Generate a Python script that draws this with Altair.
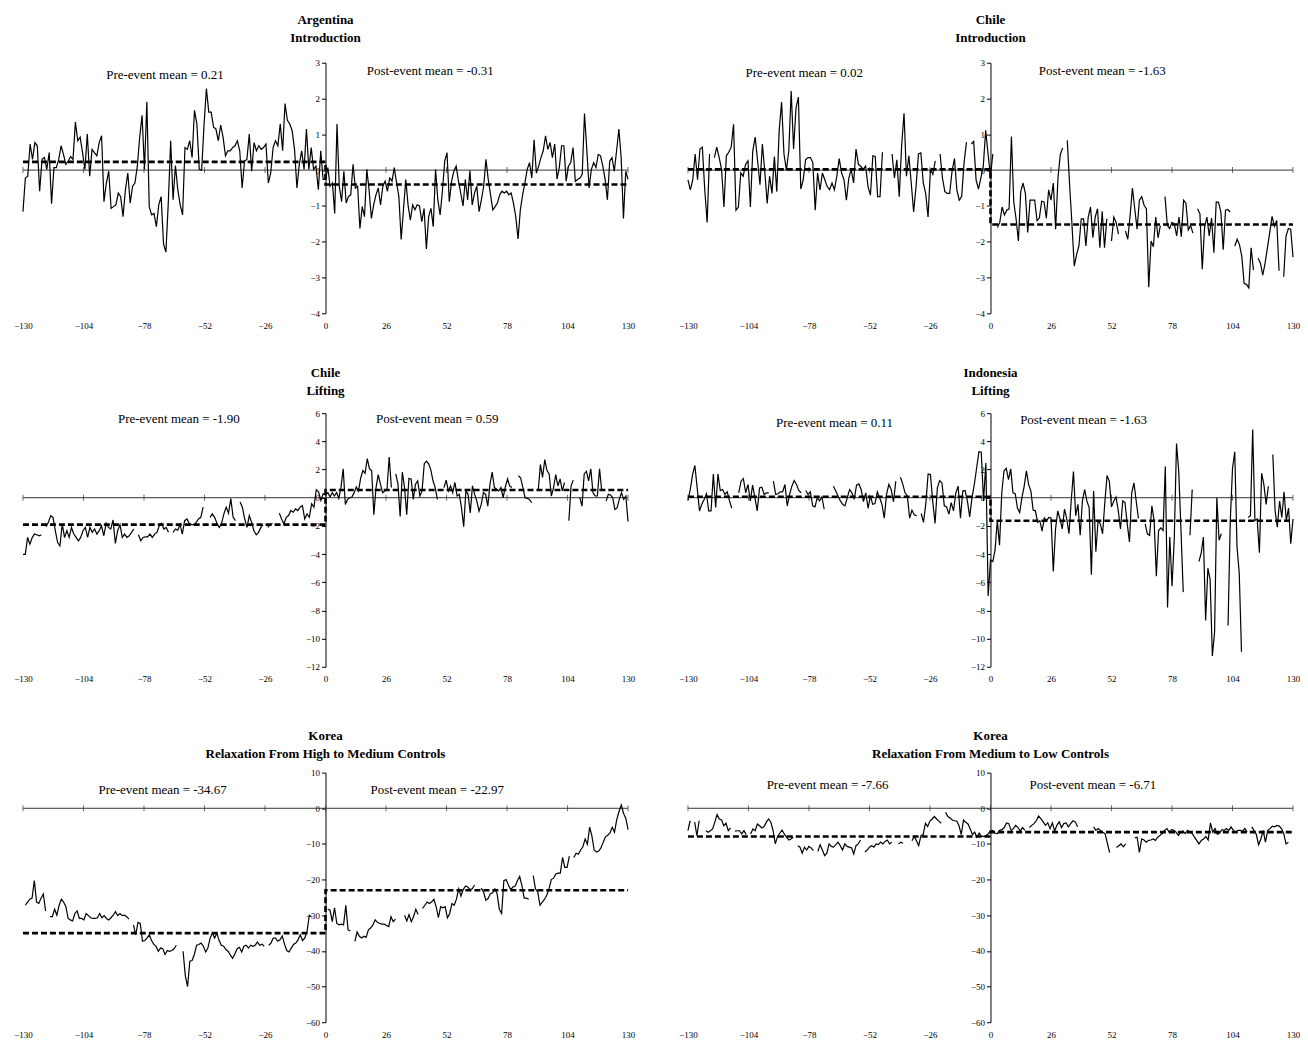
import altair as alt
import numpy as np
import pandas as pd

FONT = "Liberation Serif"
X_TICKS = [-130, -104, -78, -52, -26, 0, 26, 52, 78, 104, 130]

# ---------------- Argentina, Introduction ----------------
arg_pre = [-1.16, -0.22, -0.17, 0.73, 0.30, 0.77, 0.68, -0.59, 0.30, 0.35,
           0.02, 0.49, -0.94, 0.07, 0.07, 0.30, 0.68, 0.44, 0.16, 0.25,
           0.38, 0.30, 1.34, 0.82, 0.92, 0.49, 0.02, 1.01, -0.17, 0.58,
           0.49, 0.40, 0.77, 0.96, -0.88, -0.36, -0.03, -1.07, -1.02, -0.97,
           -0.64, -0.74, -1.30, -0.55, -0.08, -0.92, -0.45, -0.36, 0.11, 0.92,
           1.53, 0.02, 1.91, -1.02, -1.25, -1.21, -1.58, -0.97, -0.74, -2.06,
           -2.29, -0.92, 0.82, -0.83, 0.13, -0.55, -0.97, -1.25, 0.63, 0.58,
           0.82, 0.35, 1.67, 1.29, 0.02, 0.00, 1.25, 2.28, 1.62, 1.62,
           1.20, 1.15, 0.82, 1.26, 0.92, 0.40, 0.54, 0.54, 0.63, 0.68,
           0.82, 0.54, -0.50, 0.25, 0.30, 1.01, -0.03, 0.77, 0.54, 0.68,
           0.58, 0.63, 0.73, -0.36, -0.08, 0.63, 0.82, 0.68, 1.29, 0.54,
           1.86, 1.39, 1.29, 1.10, 0.58, -0.50, 0.16, 0.54, 0.02, 1.15,
           0.02, 0.63, 0.02, 0.11, -0.55, 0.54, -0.26, -0.26]
arg_post = [0.07, -0.45, -0.36, -1.21, 1.29, -0.45, -0.88, -0.03, -0.92, -0.74,
            -0.69, 0.16, -0.50, -0.45, -1.63, -1.02, -1.30, 0.02, -0.55, -1.35,
            -0.97, -0.69, -0.50, -0.97, -0.45, -0.31, -0.59, -0.22, -0.31, 0.07,
            -0.36, -0.74, -1.94, -1.11, -0.26, -0.97, -1.40, -0.97, -1.11, -0.97,
            -1.00, -1.44, -1.07, -2.20, -1.30, -1.07, -1.58, 0.02, -0.83, -1.25,
            -0.59, 0.25, 0.49, -0.88, -0.31, -0.03, 0.11, -0.31, -0.64, -1.00,
            -0.26, -0.83, -0.01, -0.97, -0.64, -0.45, -1.16, -0.83, -0.45, 0.30,
            -0.26, -0.69, -1.11, -1.02, -0.92, -0.69, -0.59, -0.64, -0.59, -0.69,
            -0.64, -0.92, -1.30, -1.92, -1.11, -0.69, -0.36, 0.02, 0.21, -0.22,
            0.85, -0.08, 0.11, 0.35, 0.54, 0.96, 0.58, 0.77, 0.35, 0.73,
            -0.25, 0.07, 0.68, 0.68, -0.31, 0.11, 0.21, 0.63, -0.31, -0.26,
            -0.22, -0.12, 1.58, 0.58, -0.50, 0.02, 0.21, 0.07, 0.44, 0.40,
            0.11, -0.26, -0.83, 0.25, 0.35, -0.03, 0.54, 1.15, 0.35, -1.35,
            -0.03, -0.26]

# ---------------- Chile, Introduction ----------------
chi_pre = [-0.27, -0.55, -0.27, 0.45, -0.27, 0.59, 0.64, -0.55, -1.46, 0.45, None,
           0.35, 0.64, 0.35, 0.02, -1.03, 0.40, 0.50, 0.64, 1.28, -1.12, -1.03, -0.08,
           -0.17, 0.16, 0.26, -1.03, 0.54, 0.92, 0.26, -0.41, 0.73, -0.03, -0.93, -0.17,
           -0.65, 0.38, -0.60, 1.11, 1.90, 0.45, 0.00, 0.54, 2.21, 0.59, 1.73, 2.04,
           -0.53, -0.27, 0.29, 0.35, 0.35, 0.21, -1.12, -0.08, -0.55, -0.08, -0.27,
           -0.46, -0.55, -0.36, -0.55, -0.17, 0.32, -0.08, -0.27, -0.84, -0.22, 0.02,
           -0.36, 0.59, 0.16, 0.10, 0.02, 0.11, -0.46, -0.70, 0.40, 0.38, -0.74, -0.74,
           0.50, None, None, None,
           0.45, -0.22, 0.29, -0.74, 0.69, 1.59, -0.17, 0.40, -0.36, -1.17, -0.46,
           0.45, 0.48, -0.36, -0.65, -1.31, 0.02, -0.12, 0.26, None,
           0.45, -0.22, -0.60, -0.65, -0.65, -0.03, 0.32, -0.55, -0.84, -0.74, 0.21,
           0.78, None,
           0.73, 0.80, -0.27, -0.53, -0.22, 0.11, 1.11, 0.45, -0.17]
chi_post = [0.45, None, -1.60, -1.46, -1.03, -1.25, -1.12, -1.08, 0.94, -0.89, -1.36,
            -1.98, -0.60, -0.36, -0.65, -1.74, -0.84, -0.84, -0.84, -1.41, -1.34, -0.87,
            -0.89, -1.34, -0.55, -0.84, -0.36, -1.65, -0.22, 0.43, 0.62, None,
            0.83, -0.41, -1.50, -2.68, -2.36, -2.12, -1.36, -1.36, -2.12, -1.31, -1.03,
            -1.89, -1.31, -1.08, -2.17, -1.15, -2.17, -1.36, None,
            -1.98, -1.31, -1.46, -1.79, None, None,
            -1.70, -1.93, -1.27, -0.50, -1.08, -1.65, -0.84, -0.74, -0.98, -1.08, -3.27,
            -1.98, -2.14, -1.31, -1.89, -1.55, None,
            -0.74, -1.55, -1.63, -1.46, -1.50, -1.84, -1.31, -1.86, -0.84, -0.93, -1.67,
            -1.55, -1.76, None,
            -1.08, -1.22, -2.77, -1.60, -1.31, -1.84, -1.34, -2.31, -0.89, -0.90, -1.17,
            -2.22, -1.12, -1.10, -1.17, None,
            -2.12, -1.93, -2.08, -2.41, -3.17, -3.19, -3.29, -2.17, -2.79, None,
            -2.46, -2.60, -2.93, -2.60, -2.17, -1.74, -1.29, -1.57, -1.41, -2.81, None,
            -2.98, -1.84, -1.63, -1.65, -2.43]

# ---------------- Chile, Lifting ----------------
chl_pre = [-4.02, -4.02, -2.82, -3.30, -2.82, -2.58, -2.63, -2.70, -2.63, None,
           -2.06, -1.75, -1.27, -1.39, -2.34, -3.18, -3.42, -1.87, -2.82, -2.34, -2.82,
           -2.11, -2.58, -2.82, -3.06, -2.82, -2.34, -2.11, -2.82, -2.11, -2.46, -2.22,
           -2.58, -2.34, -1.99, -2.70, -1.82, -2.11, -2.22, -1.58, -3.25, -2.34, -1.91,
           -2.82, -2.58, -2.82, -2.70, -2.46, -2.22, None,
           -2.63, -3.06, -2.82, -2.78, -2.78, -2.58, -2.82, -2.58, -2.46, -1.99, -1.82,
           -2.22, -2.11, -2.46, None,
           -2.46, -2.22, -2.30, -1.91, -2.58, -1.63, -1.51, -1.82, -1.91, -1.91, -1.75,
           -1.51, -1.39, -0.67, None, None,
           -1.39, -1.15, -1.39, -1.82, -2.11, -1.82, -1.15, -0.67, -1.10, -0.07, -1.39,
           -1.63, None,
           -0.31, -0.67, -1.51, -2.11, -1.27, -1.75, -2.34, -2.63, -2.46, -2.11, -1.91,
           None,
           -2.11, -1.91, -1.82, None, None,
           -1.10, -1.51, -1.87, -1.39, -1.27, -0.91, -1.03, -0.79, -0.91, -0.67, -0.55,
           -1.51, -1.15, -1.39, -0.43, -0.67, 0.57, 0.41, -0.19, 0.29, 0.17]
chl_post = [0.36, 0.05, 0.36, 0.12, 0.36, -0.05, 0.72, 2.05, -0.48, -0.12, 0.00, 0.05,
            0.36, 0.77, 0.48, 1.40, 1.93, 1.73, 2.77, 2.05, 1.93, -1.20, 0.72, 1.64,
            0.96, 0.36, 0.48, 0.60, 2.89, 0.72, None,
            1.69, 0.96, -1.33, 1.81, 0.72, -1.20, 1.37, 1.33, -0.12, 0.96, 1.20, 0.12,
            0.48, 2.41, 2.60, 2.41, 1.98, 1.20, 0.72, -0.12, None, None,
            0.72, 1.25, 0.48, 0.84, 0.36, 1.08, 0.12, 0.24, -0.72, -2.05, 0.48, 0.24,
            -1.08, 0.84, 0.24, -0.24, -0.96, -0.48, 0.36, 0.24, -0.60, 0.96, 1.81, 0.72,
            0.60, 0.48, 0.72, 0.00, 0.77, 1.33, 0.84, 0.72, None, None,
            1.57, 1.40, 0.72, 0.00, -0.05, -0.12, -0.36, None, None,
            0.48, 2.36, 1.45, 2.70, 1.93, 1.69, 0.12, 0.72, 1.64, 0.84, 1.33, 0.48, 1.08,
            None,
            -1.64, 0.84, 1.25, None, None,
            0.00, -0.60, 1.69, 1.88, 1.20, 2.05, 0.36, 0.12, 0.12, 2.05, 0.48, None,
            -0.24, 0.24, 0.19, 0.00, -0.84, -0.72, -0.12, 0.36, -0.12, 0.12, -1.69]

# ---------------- Indonesia, Lifting ----------------
ind_pre = [-0.19, 0.58, 1.64, 2.29, 0.70, -0.94, -0.47, -0.12, 0.28, -0.94, -0.94, 1.68,
           -0.70, 1.68, 0.51, 0.58, 0.23, 0.42, -0.23, -0.75, None, None,
           0.35, 1.17, 1.36, 0.35, 0.94, -0.23, 0.89, 0.00, -0.94, 0.70, 0.75, 0.23, 0.35,
           0.35, None,
           1.17, 0.23, 0.28, 0.42, 0.42, 0.94, -0.58, 0.23, 0.82, 1.22, 0.94, 0.51, 0.35,
           None,
           0.51, 0.23, 0.42, -0.58, -0.65, 0.00, -0.23, 0.05, -0.82, None, None, None,
           0.82, 0.47, 0.12, -0.23, -0.47, -0.58, 0.00, 0.58, 0.35, -0.12, 0.89, 0.98,
           0.58, -0.28, 0.35, -0.75, 0.12, -0.47, -0.42, 0.42, 0.00, -0.47, -1.45, 0.23,
           0.94, 0.58, -0.28, 1.17, None,
           1.45, 0.98, 0.35, 0.12, -1.45, -0.89, -1.22, -1.29, None,
           -1.12, -1.75, -0.42, 1.68, 1.64, -0.28, -1.82, 0.70, 1.22, 1.05, -0.58, -0.65,
           -1.17, -0.35, -0.94, 0.35, 0.82, -1.45, 0.47, 0.51, -0.23, -1.36, 0.00, 0.94,
           2.11, 3.27, 3.23, -0.23, 2.46, -6.98, -4.42]
ind_post = [-4.53, -3.72, -1.63, -3.37, 0.35, 1.91, 2.09, 1.28, 2.05, 0.35, 0.28, -0.74,
            -1.05, 0.00, 0.81, 1.91, 0.93, 0.47, -0.88, -0.93, -1.74, -1.63, -2.37, -1.44,
            -1.63, -1.40, -1.44, -5.23, -2.21, -0.93, -1.51, -2.21, -0.81, -1.51, -2.56,
            -0.23, 1.86, -1.28, -0.47, -2.67, -0.23, 0.58, -0.23, -0.70, -5.47, 0.47,
            -3.84, -1.63, -1.86, -2.56, -0.35, 1.58, 1.16, -0.65, -0.23, 0.05, -0.93,
            -2.21, -0.23, -0.35, -1.86, -3.14, 0.35, 1.05, -0.23, -1.47, None, None,
            -1.86, -2.56, -2.67, -0.58, -1.63, -5.58, -2.33, -2.14, -2.33, 2.21, -7.79,
            -2.79, -6.28, -2.91, 3.84, 1.86, -2.33, -6.70, None, None,
            -2.67, 0.58, None, None,
            -4.53, -3.95, -2.79, -8.72, -5.00, -5.81, -11.23, -9.53, 0.00, -3.02, -2.56,
            None, None,
            -9.07, -1.63, 2.09, 3.26, -3.49, -5.35, -10.93, None, None,
            -1.40, -1.28, 4.84, -1.63, -1.51, -3.91, 1.74, 0.93, -0.47, 0.81, None,
            3.07, -0.93, -2.09, -0.23, -1.40, 0.42, -1.63, -0.74, -3.26, -1.51]

# ---------------- Korea, High to Medium ----------------
khm_pre = [-27.2, -26.3, -25.5, -25.2, -20.3, -26.3, -26.7, -25.2, -24.0, -28.8, None,
           -30.4, -30.4, -28.3, -30.0, -27.2, -25.5, -26.3, -27.6, -30.9, -31.3, -31.6,
           -29.5, -28.8, -30.9, -30.9, -31.3, -29.5, -30.1, -30.7, -30.9, -30.9, -30.7,
           -29.5, -30.7, -30.1, -30.9, -31.3, -30.7, -30.0, -29.0, -30.1, -29.5, -30.1,
           -30.0, -30.4, -31.1, None,
           -32.7, -35.5, -32.0, -32.3, -37.3, -37.1, -36.4, -35.5, -37.1, -38.1, -38.7,
           -40.1, -39.2, -39.4, -41.0, -39.9, -40.1, -39.9, -39.4, -38.4, None, None,
           -40.1, -47.0, -50.0, -42.9, -42.7, -41.0, -38.4, -38.2, -37.8, -38.7, -40.3,
           -39.2, -36.4, -35.0, -36.4, -35.0, -37.1, -38.4, -38.7, -39.6, -40.1, -41.2,
           -42.1, -40.8, -39.4, -39.0, -40.3, -38.7, -38.4, -39.2, -38.4, -38.7, -38.4,
           -37.5, -38.4, -38.1, -38.7, None,
           -38.4, -37.8, -36.4, -36.4, -37.3, -36.9, -35.8, -38.1, -39.9, -40.3, -39.2,
           -38.2, -37.8, -36.9, -35.5, -37.1, -36.4, -34.6, -30.0, -30.4]
khm_post = [None, -28.3, -28.6, -31.8, -27.9, -32.3, -32.7, -32.5, -32.7, -27.2, -34.1,
            -34.4, None,
            -37.3, -34.7, -35.9, -36.4, -35.9, -36.2, -34.1, -33.6, -32.7, -31.3, -32.0,
            -32.3, -32.5, -32.5, -32.9, -33.2, -30.4, -31.8, -31.1, None, None, None,
            -30.0, -31.6, -29.8, -31.8, -30.4, -28.3, -29.8, None,
            -28.1, -27.2, -26.3, -26.7, -26.3, -25.5, -27.6, -30.7, -27.6, -27.9, -27.6,
            -30.7, -29.5, -26.7, -27.2, -25.5, -22.6, -24.6, -22.8, -21.8, -22.1, -22.8,
            -22.6, -21.5, None, None,
            -22.4, -23.5, -25.8, -25.3, -24.0, -23.7, -22.6, -24.0, -28.3, -29.5, -20.3,
            -20.0, -21.5, -22.8, -22.1, -21.8, -20.3, -19.1, -21.7, -25.2, -25.2, -25.5,
            None,
            -18.9, -22.6, -23.5, -27.2, -26.3, -25.5, -24.4, -22.6, -20.0, -19.6, -18.4,
            -18.2, -18.2, -13.8, -16.6, -16.6, -13.4, None,
            -13.8, -12.6, -12.9, -11.7, -10.8, -8.6, -10.1, -5.3, -7.8, -11.7, -12.3,
            -12.0, -11.1, -9.5, -8.0, -7.6, -6.9, -5.3, -6.7, -3.2, -0.9, 0.9, -1.4,
            -2.8, -6.0]

# ---------------- Korea, Medium to Low ----------------
kml_pre = [-6.3, -3.5, None, -3.9, -7.7, -3.5, None, None,
           -6.3, -6.7, -6.3, -5.8, -3.9, -1.8, -3.0, -3.3, -4.9, -4.2, -6.3, -5.5, None,
           -6.4, -6.3, -6.3, -7.2, -6.3, -7.4, None,
           -7.2, -5.8, -6.3, -4.4, -4.9, -5.5, -5.1, -3.9, -3.0, -3.9, -6.3, -10.0, -7.9,
           -7.0, -6.1, -7.2, -8.1, -8.9, -8.6, -8.1, None,
           -10.5, -10.9, -12.6, -10.9, -11.7, -10.7, -11.1, -11.9, None,
           -12.1, -10.2, -11.7, -13.3, -12.6, -10.0, -10.7, -10.9, -10.2, -9.5, -10.5,
           -11.7, -10.0, -10.7, -10.9, -11.1, -12.8, -10.5, -10.0, -8.9, None,
           -12.3, -11.7, -10.9, -10.5, -10.9, -10.0, -10.2, -9.5, -10.0, -9.3, -8.9,
           -10.0, -9.5, None, None,
           -10.0, -9.5, -9.8, None, None, None,
           -9.1, -7.9, -9.1, -10.5, -7.7, -7.4, -4.2, -5.1, -3.6, -3.0, -2.3, -3.0, -3.6,
           -4.2, None,
           -1.1, -2.3, -2.7, -3.3, -3.5, -3.6, -4.9, -7.4, -3.3, -3.9, -4.4, -5.8, -7.4,
           -6.7, -8.1, -7.0, -7.9, -7.9, -7.7, -7.2]
kml_post = [-6.4, -6.2, -7.0, -7.1, -6.2, -6.0, -5.4, -4.1, -4.3, -6.2, -5.7, -4.8, -5.4,
            -6.4, -5.4, -6.2, None,
            -5.4, -4.8, -4.3, -3.5, -2.2, -2.9, -3.8, -4.8, -4.1, -5.7, -4.1, -6.4, -4.8,
            -3.8, -5.4, -4.3, -4.1, -5.2, -4.3, -3.5, -3.8, -5.2,
            None, None, None, None, None, None,
            -5.2, -6.2, -5.7, -6.2, -6.7, -7.1, -9.8, -12.4, None, None,
            -11.0, -10.5, -10.0, -10.8, -10.0, None, None, None,
            -8.3, -8.1, -12.4, -8.6, -8.9, -9.5, -9.0, -8.9, -8.6, -9.0, -8.1, -7.6, -7.1,
            -6.2, -5.7, -6.7, -6.0, -6.2, -6.7, -7.6, -6.7, -6.4, -7.1, -6.2, -6.7, -7.0,
            -8.1, -9.0, -10.0, -9.0, -8.6, -7.9, -8.9, -4.1, -6.7, -5.7, -7.3, -7.0, -6.0,
            -6.2, -5.7, -6.2, -5.2, -6.2, -6.7, -6.2, -6.2, -6.4, -5.7, -6.7, None,
            -5.2, -6.2, -7.3, -10.2, -8.6, -6.2, -9.5, -6.2, -5.7, -5.0, -5.2, -4.8, -5.0,
            -5.7, -7.1, -10.0, -9.5]

# panel definitions: titles, mean levels (as drawn), label texts
titles = [["Argentina", "Introduction"], ["Chile", "Introduction"],
          ["Chile", "Lifting"], ["Indonesia", "Lifting"],
          ["Korea", "Relaxation From High to Medium Controls"],
          ["Korea", "Relaxation From Medium to Low Controls"]]
pre_series = [arg_pre, chi_pre, chl_pre, ind_pre, khm_pre, kml_pre]
post_series = [arg_post, chi_post, chl_post, ind_post, khm_post, kml_post]
pre_spans = [(-130, 0), (-130, 0), (-130, 0), (-130, 0), (-129, -6), (-130, -1)]
post_spans = [(1, 130), (1, 130), (1, 130), (1, 130), (0, 130), (0, 128)]
pre_levels = [0.23, 0.02, -1.91, 0.07, -35.0, -7.9]
post_levels = [-0.40, -1.52, 0.55, -1.63, -23.0, -6.7]
pre_means = ["0.21", "0.02", "-1.90", "0.11", "-34.67", "-7.66"]
post_means = ["-0.31", "-1.63", "0.59", "-1.63", "-22.97", "-6.71"]
y_domains = [(-4, 3), (-4, 3), (-12, 6), (-12, 6), (-60, 10), (-60, 10)]
y_steps = [1, 1, 2, 2, 10, 10]
label_x = [(-69, 45), (-80, 48), (-63, 48), (-67, 40), (-70, 48), (-70, 44)]
label_y = [(2.67, 2.76), (2.71, 2.78), (5.6, 5.6), (5.3, 5.55), (5.0, 5.0), (6.6, 6.6)]

W = 606
HEIGHTS = [251, 254, 250]
TITLE_OFFSETS = [14, 11, 8]


def series_frame(pre, post, pre_span, post_span):
    xs = list(np.linspace(pre_span[0], pre_span[1], len(pre))) + \
         list(np.linspace(post_span[0], post_span[1], len(post)))
    ys = list(pre) + list(post)
    rows, seg = [], 0
    for x, y in zip(xs, ys):
        if y is None:
            seg += 1
            continue
        rows.append({"x": float(x), "y": y, "seg": seg})
    return pd.DataFrame(rows)


def panel(i):
    lo, hi = y_domains[i]
    step = y_steps[i]
    yvals = list(range(hi, lo - 1, -step))
    h = HEIGHTS[i // 2]
    xenc = alt.X("x:Q", scale=alt.Scale(domain=[-130, 130], nice=False, zero=False),
                 axis=alt.Axis(values=X_TICKS, domain=False, ticks=False, grid=False,
                               labelFontSize=9, labelFont=FONT, labelColor="black",
                               labelPadding=8, title=None, labelFlush=False))
    yenc = alt.Y("y:Q", scale=alt.Scale(domain=[lo, hi], nice=False, zero=False),
                 axis=alt.Axis(values=yvals, offset=-W / 2, grid=False, domainColor="black",
                               tickColor="black", tickSize=4, labelFontSize=9,
                               labelFont=FONT, labelColor="black", labelPadding=2,
                               title=None, labelFlush=False))

    zero = alt.Chart(pd.DataFrame({"y": [0]})).mark_rule(
        color="#333333", strokeWidth=1).encode(y=yenc)
    ticks = alt.Chart(pd.DataFrame({"x": X_TICKS, "y": [0] * len(X_TICKS)})).mark_tick(
        orient="vertical", size=6, thickness=1, color="#333333").encode(x=xenc, y=yenc)
    line = alt.Chart(series_frame(pre_series[i], post_series[i],
                                  pre_spans[i], post_spans[i])).mark_line(
        color="black", strokeWidth=1.2, interpolate="linear").encode(
        x=xenc, y=yenc, detail="seg:N")
    mean_df = pd.DataFrame({
        "x": [-130, 0, 0, 130],
        "y": [pre_levels[i], pre_levels[i], post_levels[i], post_levels[i]],
        "o": [0, 1, 2, 3]})
    mean = alt.Chart(mean_df).mark_line(
        color="black", strokeWidth=2.6, strokeDash=[6, 3]).encode(
        x=xenc, y=yenc, order="o:Q")
    lab_df = pd.DataFrame({
        "x": list(label_x[i]), "y": list(label_y[i]),
        "t": ["Pre-event mean = " + pre_means[i], "Post-event mean = " + post_means[i]]})
    labels = alt.Chart(lab_df).mark_text(font=FONT, fontSize=13, color="black").encode(
        x=xenc, y=yenc, text="t:N")

    return alt.layer(zero, ticks, line, mean, labels).properties(
        width=W, height=h,
        title=alt.TitleParams(text=titles[i], font=FONT, fontSize=13, fontWeight="bold",
                              color="black", lineHeight=18, anchor="middle",
                              offset=TITLE_OFFSETS[i // 2]))


rows = [alt.hconcat(panel(2 * r), panel(2 * r + 1), spacing=43) for r in range(3)]
top = alt.vconcat(rows[0], rows[1], spacing=37)
chart = alt.vconcat(top, rows[2], spacing=46).configure(
    background="white", padding={"left": 5, "right": 0, "top": 5, "bottom": 0}
).configure_view(stroke=None)

chart.save("out.html", embed_options={"renderer": "svg", "actions": False})
